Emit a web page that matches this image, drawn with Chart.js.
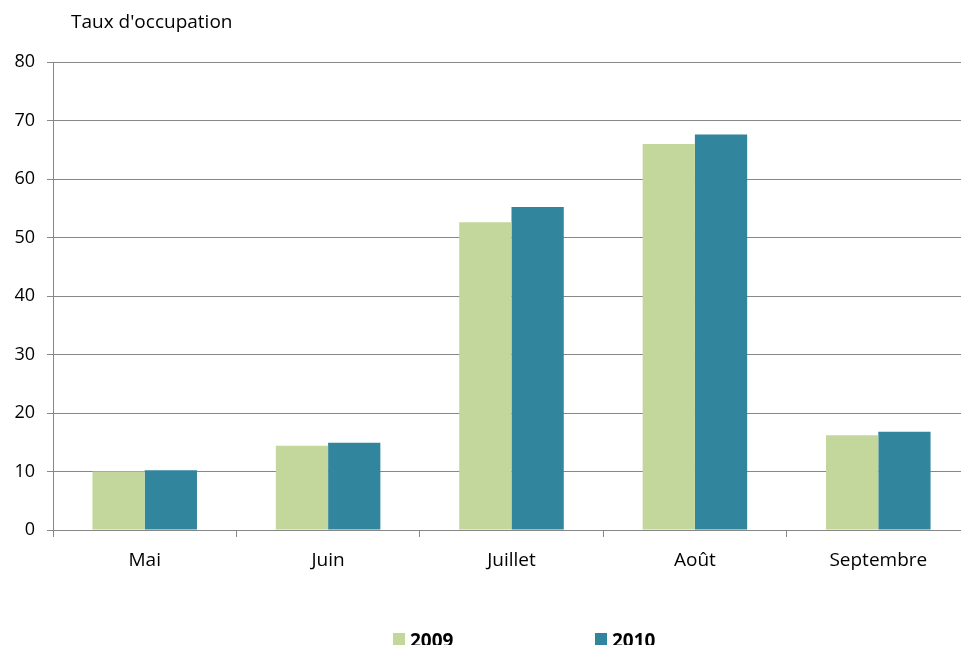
<!DOCTYPE html>
<html>
<head>
<meta charset="utf-8">
<script src="https://cdn.jsdelivr.net/npm/chart.js@4/dist/chart.umd.min.js"></script>
<style>
html,body{margin:0;padding:0;overflow:hidden;background:#fff;}
#wrap{width:975px;height:645px;position:relative;}
</style>
</head>
<body>
<div id="wrap"><canvas id="c" width="975" height="645"></canvas></div>
<script>
const categories = ["Mai", "Juin", "Juillet", "Août", "Septembre"];
const series2009 = [10.0, 14.4, 52.6, 66.0, 16.2];
const series2010 = [10.2, 14.9, 55.2, 67.6, 16.8];
const seriesNames = ["2009", "2010"];
const yTitle = "Taux d'occupation";
const FONT = "'Open Sans', sans-serif";

const titlePlugin = {
  id: 'topTitle',
  afterDraw(chart) {
    const ctx = chart.ctx;
    ctx.save();
    ctx.font = "19px " + FONT;
    ctx.fillStyle = "#000";
    ctx.textBaseline = "alphabetic";
    ctx.textAlign = "left";
    ctx.fillText(yTitle, chart.chartArea.left + 18, 28);
    ctx.restore();
  }
};

const legendPlugin = {
  id: 'bottomLegend',
  afterDraw(chart) {
    const ctx = chart.ctx;
    ctx.save();
    ctx.font = "bold 19px " + FONT;
    ctx.textBaseline = "alphabetic";
    ctx.textAlign = "left";
    const startX = chart.chartArea.left + 340;
    const step = 202;
    chart.data.datasets.forEach((ds, i) => {
      const x = startX + i * step;
      ctx.fillStyle = ds.backgroundColor;
      ctx.fillRect(x, 633, 12, 12);
      ctx.fillStyle = "#000";
      ctx.fillText(ds.label, x + 17, 647);
    });
    ctx.restore();
  }
};

new Chart(document.getElementById('c'), {
  type: 'bar',
  data: {
    labels: categories,
    datasets: [
      { label: seriesNames[0], data: series2009, backgroundColor: '#C3D69B', categoryPercentage: 0.57, barPercentage: 1.0 },
      { label: seriesNames[1], data: series2010, backgroundColor: '#31859C', categoryPercentage: 0.57, barPercentage: 1.0 }
    ]
  },
  options: {
    responsive: false,
    animation: false,
    devicePixelRatio: 1,
    layout: { padding: { top: 62, right: 5, left: 0, bottom: 0 } },
    plugins: {
      title: { display: false },
      tooltip: { enabled: false },
      legend: { display: false }
    },
    scales: {
      x: {
        offset: true,
        afterFit(scale) { scale.height = 115; },
        grid: { offset: true, drawOnChartArea: false, drawTicks: true, tickLength: 7, color: '#878787' },
        border: { color: '#878787' },
        ticks: { color: '#000', font: { family: FONT, size: 19 }, padding: 12 }
      },
      y: {
        min: 0, max: 80,
        afterFit(scale) { scale.width = 53; },
        grid: { color: '#878787', tickLength: 6 },
        border: { color: '#878787' },
        ticks: { stepSize: 10, color: '#000', font: { family: FONT, size: 18 }, padding: 12 }
      }
    }
  },
  plugins: [titlePlugin, legendPlugin]
});
</script>
</body>
</html>
